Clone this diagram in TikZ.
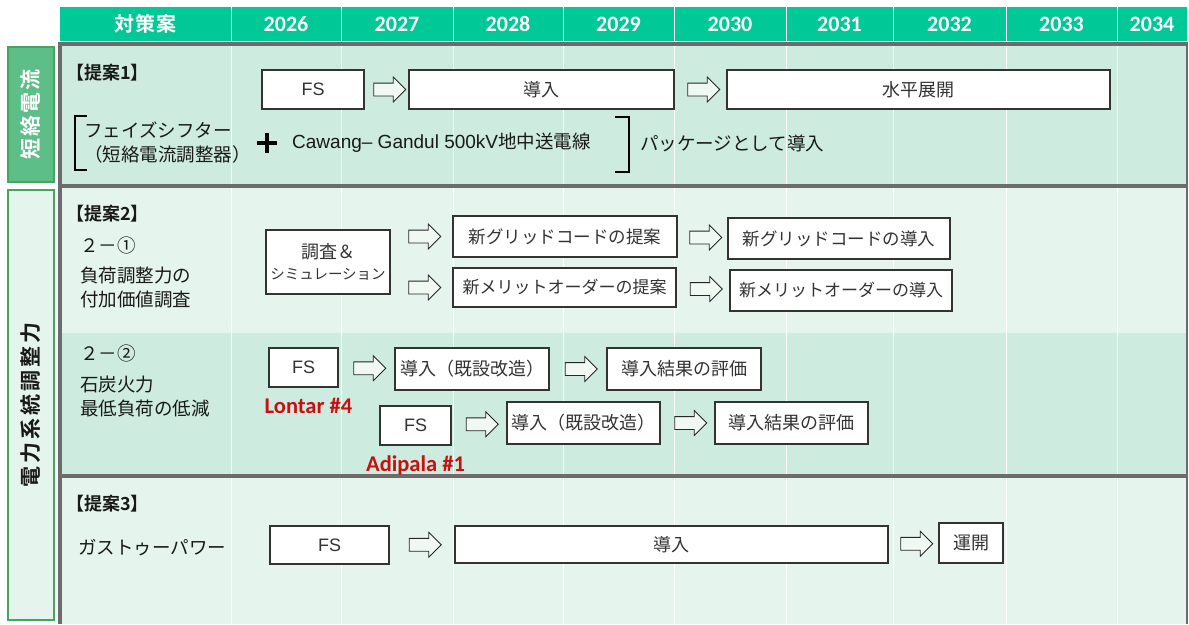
\documentclass[tikz,border=0pt]{standalone}
\usepackage{fontspec}
\setmainfont{Noto Sans CJK JP}[BoldFont={Noto Sans CJK JP Bold}]
\newfontfamily\yearfont{Carlito}
\newfontfamily\latinfont{Liberation Sans}
\usetikzlibrary{positioning,calc,shapes.arrows}

\definecolor{headteal}{RGB}{0,200,150}
\definecolor{mintdark}{RGB}{205,235,222}
\definecolor{mintlight}{RGB}{229,245,237}
\definecolor{framegray}{RGB}{108,108,108}
\definecolor{tagdark}{RGB}{94,190,136}
\definecolor{tagedge}{RGB}{70,165,95}
\definecolor{boxtext}{RGB}{51,51,51}
\definecolor{plantred}{RGB}{200,16,16}
\definecolor{arrowfill}{RGB}{240,248,242}

\tikzset{
  planbox/.style = {draw=boxtext, line width=1.2pt, fill=white, text=boxtext, inner sep=0pt,
    minimum height=39, font=\fontsize{18}{21}\selectfont},
  blockarrow/.style = {single arrow, draw=black!85, fill=arrowfill, line width=.8pt,
    inner xsep=0pt, inner ysep=6pt, single arrow head extend=6pt,
    single arrow head indent=0pt, minimum height=32, minimum width=24},
  rowtext/.style = {anchor=west, text=black!90, font=\fontsize{18.5}{24}\selectfont,
    align=left, inner sep=0pt},
  proposal/.style = {anchor=west, text=black!90, font=\bfseries\fontsize{18}{20}\selectfont, inner sep=0pt},
  yearcell/.style = {text=white, font=\yearfont\bfseries\fontsize{22}{24}\selectfont},
  plantnote/.style = {text=plantred, font=\yearfont\bfseries\fontsize{22.5}{25}\selectfont, inner sep=0pt},
  sidetag/.style = {rotate=90, draw=tagedge, line width=1.2pt, minimum height=46,
    font=\bfseries\fontsize{21}{24}\selectfont},
}

\begin{document}
\begin{tikzpicture}[x=1pt, y=-1pt]
  \useasboundingbox (0,0) rectangle (1189,624);

  % header row
  \fill[headteal] (60,7) rectangle (1187,41);
  \node (plan) at (145.5,24) [text=white, font=\bfseries\fontsize{20}{22}\selectfont\addfontfeature{LetterSpace=6}] {対策案};
  \foreach \yr/\xl/\xr in {2026/231/341, 2027/341/453, 2028/453/563, 2029/563/674,
      2030/674/786, 2031/786/893, 2032/893/1006, 2033/1006/1117, 2034/1117/1187} {
    \node (y\yr) at ({(\xl+\xr)/2},24) [yearcell] {\yr};
    \draw[white, line width=1pt] (\xl,7) -- (\xl,41);
  }

  % bands
  \fill[mintdark]  (60,44)  rectangle (1187,185);
  \fill[mintlight] (60,186) rectangle (1187,333);
  \fill[mintdark]  (60,333) rectangle (1187,476);
  \fill[mintlight] (60,476) rectangle (1187,624);
  \foreach \xc in {231,341,453,563,674,786,893,1006,1117}
    \draw[white, line width=.9pt] (\xc,44) -- (\xc,624);

  % frame
  \draw[framegray, line width=4pt] (58,43.5) -- (1188,43.5);
  \draw[framegray, line width=4pt] (58,185.5) -- (1188,185.5);
  \draw[framegray, line width=4pt] (58,476) -- (1188,476);
  \draw[framegray, line width=4pt] (60,41.5) -- (60,624);
  \draw[framegray, line width=2.5pt] (1187,41.5) -- (1187,624);

  % side tags
  \node (tagsc) at (31,114.5) [sidetag, fill=tagdark, text=white, minimum width=135,
    font=\bfseries\fontsize{21}{24}\selectfont\addfontfeature{LetterSpace=9}] {短絡電流};
  \node (tagpw) at (31,405) [sidetag, fill=mintlight, text=black!90, minimum width=430,
    font=\bfseries\fontsize{21}{24}\selectfont\addfontfeature{LetterSpace=15}] {電力系統調整力};

  % proposal 1
  \node (p1) at (66,73) [proposal] {【提案1】};
  \node (fs1) at (313,89.5) [planbox, minimum width=102] {\latinfont FS};
  \node (dn1) at (541.5,89.5) [planbox, minimum width=265] {導入};
  \node (hz1) at (918.5,89.5) [planbox, minimum width=383] {水平展開};
  \node (ar1) at ($(fs1.east)!.5!(dn1.west)$) [blockarrow] {};
  \node (ar2) at ($(dn1.east)!.5!(hz1.west)$) [blockarrow] {};
  \node (shift) at (84,143) [rowtext] {フェイズシフター\\（短絡電流調整器）};
  \draw[line width=1.1pt] (87,116) -- (75,116) -- (75,170) -- (87,170);
  \node (plus) at (267,143) [minimum size=20, inner sep=0pt, path picture={
    \draw[line width=3.5pt] (path picture bounding box.west) -- (path picture bounding box.east)
      (path picture bounding box.north) -- (path picture bounding box.south);}] {};
  \node (cable) at (292,143) [rowtext] {{\latinfont\fontsize{19}{24}\selectfont Cawang– Gandul 500kV}地中送電線};
  \draw[line width=1.1pt] (615,117) -- (629,117) -- (629,172) -- (615,172);
  \node (pkg) at (640,143) [rowtext] {パッケージとして導入};

  % proposal 2-1
  \node (p2) at (66,214) [proposal] {【提案2】};
  \node (s21) at (80,245) [rowtext] {２－①};
  \node (s21t) at (80,287.5) [rowtext] {負荷調整力の\\付加価値調査};
  \node (sim) at (328,262) [planbox, minimum width=124, minimum height=64, align=center]
    {調査＆\\{\fontsize{14.5}{19}\selectfont シミュレーション}};
  \node (gp) at (565,236.5) [planbox, minimum width=224, minimum height=41,
    font=\fontsize{17.5}{21}\selectfont] {新グリッドコードの提案};
  \node (mp) at (564.5,287.5) [planbox, minimum width=223,
    font=\fontsize{17}{21}\selectfont] {新メリットオーダーの提案};
  \node (gi) at (839,238.5) [planbox, minimum width=222, minimum height=41,
    font=\fontsize{17.5}{21}\selectfont] {新グリッドコードの導入};
  \node (mi) at (841,290.5) [planbox, minimum width=222, minimum height=41,
    font=\fontsize{17}{21}\selectfont] {新メリットオーダーの導入};
  \node (ar3) at ($(sim.east|-gp)!.5!(gp.west)$) [blockarrow] {};
  \node (ar4) at ($(sim.east|-mp)!.5!(mp.west)$) [blockarrow] {};
  \node (ar5) at ($(gp.east)!.5!(gi.west)$) [blockarrow] {};
  \node (ar6) at ($(mp.east)!.5!(mi.west)$) [blockarrow] {};

  % proposal 2-2
  \node (s22) at (80,353) [rowtext] {２－②};
  \node (s22t) at (80,396.5) [rowtext] {石炭火力\\最低負荷の低減};
  \node (fsL) at (303.5,367.5) [planbox, minimum width=69] {\latinfont FS};
  \node (lontar) [plantnote, below=10pt of fsL, xshift=5pt] {Lontar \#4};
  \node (dnL) at (472,369) [planbox, minimum width=154, minimum height=42] {導入（既設改造）};
  \node (evL) at (684,369) [planbox, minimum width=154, minimum height=42] {導入結果の評価};
  \node (fsA) at (415.5,425.5) [planbox, minimum width=71] {\latinfont FS};
  \node (adipala) [plantnote, below=10pt of fsA] {Adipala \#1};
  \node (dnA) at (583.5,423) [planbox, minimum width=153, minimum height=42] {導入（既設改造）};
  \node (evA) at (791.5,423) [planbox, minimum width=153, minimum height=42] {導入結果の評価};
  \node (ar7) at ($(fsL.east)!.5!(dnL.west)$) [blockarrow] {};
  \node (ar8) at ($(dnL.east)!.5!(evL.west)$) [blockarrow] {};
  \node (ar9) at ($(fsA.east)!.5!(dnA.west)$) [blockarrow] {};
  \node (ar10) at ($(dnA.east)!.5!(evA.west)$) [blockarrow] {};

  % proposal 3
  \node (p3) at (66,504) [proposal] {【提案3】};
  \node (gtp) at (78,548) [rowtext] {ガストゥーパワー};
  \node (fs3) at (329.5,545) [planbox, minimum width=119, minimum height=38] {\latinfont FS};
  \node (dn3) at (671.5,544.5) [planbox, minimum width=433, minimum height=37] {導入};
  \node (op3) at (971,543) [planbox, minimum width=64, minimum height=40] {運開};
  \node (ar11) at ($(fs3.east)!.5!(dn3.west)$) [blockarrow] {};
  \node (ar12) at ($(dn3.east)!.5!(op3.west)$) [blockarrow] {};
\end{tikzpicture}
\end{document}
